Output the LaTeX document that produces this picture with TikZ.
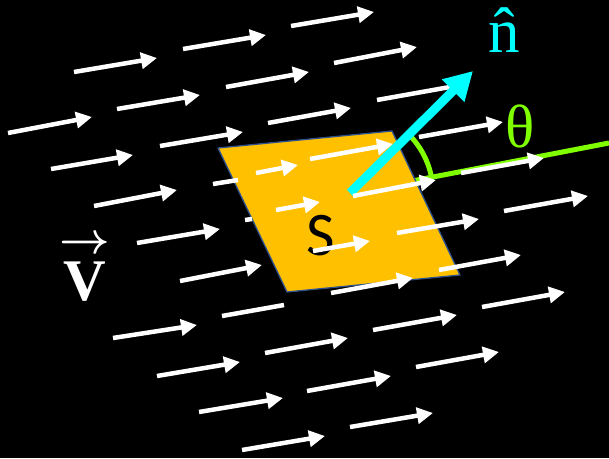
\RequirePackage{fix-cm}
\documentclass[tikz,border=0pt]{standalone}
\usepackage{fontspec}
\setmainfont{Liberation Serif}
\newfontfamily\carlito{Carlito}
\usetikzlibrary{arrows.meta}
\definecolor{surf}{RGB}{255,192,0}
\definecolor{surfedge}{RGB}{47,82,143}
\definecolor{ncyan}{RGB}{0,255,255}
\definecolor{agreen}{RGB}{128,255,0}
\tikzset{
  flow/.style={white, line width=4.5pt, -{Triangle[length=16pt,width=16pt]}},
  flowline/.style={white, line width=4.5pt},
  normalvec/.style={ncyan, line width=9pt, -{Triangle[length=28pt,width=30pt]}},
  anglemark/.style={agreen, line width=5pt},
  lbl/.style={inner sep=0pt, anchor=base},
}
\begin{document}
\begin{tikzpicture}[x=1pt,y=-1pt]
\useasboundingbox (0,0) rectangle (609,458);
\fill[black] (0,0) rectangle (609,458);
% key points
\coordinate (o) at (350,193);
\coordinate (ntip) at (473,71);
\coordinate (gend) at (609,143);
% reference line of the angle (behind the surface)
\draw[anglemark] (o) -- (gend);
% surface
\filldraw[fill=surf, draw=surfedge, line width=1.3pt, line join=round]
  (218,148) -- (392,131) -- (460,275) -- (287,292) -- cycle;
\node[lbl, font=\carlito\fontsize{62}{62}\selectfont] (S) at (321,255) {S};
% velocity field
\foreach \a/\b/\c/\d in {
  74/72/157/58, 183/49/266/35, 291/26/374/12,
  8/133/92/117, 117/109/200/95, 226/87/309/72, 334/63/417/47,
  51/169/133/155, 160/146/243/132, 268/123/351/108,
  94/206/177/190, 310/159/393/144, 419/137/503/122,
  137/243/220/229, 461/173/544/158,
  180/281/262/265, 313/251/370/241, 397/233/479/219, 504/211/588/196,
  331/293/413/278, 439/270/521/255, 482/307/565/292,
  373/330/457/315, 416/367/499/352, 265/353/348/338,
  113/338/197/325, 157/376/240/362, 307/391/391/376,
  199/412/283/398, 350/427/433/413, 242/450/325/436,
  256/173/298/165, 276/210/320/202}
  \draw[flow] (\a,\b) -- (\c,\d);
\foreach \a/\b/\c/\d in {377/100/450/87, 213/184/238/180, 245/220/252/219, 222/316/284/305}
  \draw[flowline] (\a,\b) -- (\c,\d);
% angle arc
\draw[anglemark] (o) ++(-11:83) arc[start angle=-11, end angle=-46, radius=83];
% normal vector
\draw[normalvec] (o) -- (ntip);
\draw[flow] (353,196) -- (436,180);
% labels
\node[lbl, text=ncyan, font=\fontsize{63}{63}\selectfont] (nhat) at (504,52) {\^{n}};
\node[lbl, text=agreen, font=\fontsize{61}{61}\selectfont] (theta) at (520,147) {θ};
\node[lbl, text=white, font=\fontsize{59}{59}\selectfont] (vvec) at (85,300) {\bfseries V};
\node[inner sep=0pt, text=white, font=\fontsize{44}{44}\selectfont\boldmath] (varrow) at (85,245) {$\rightarrow$};
\end{tikzpicture}
\end{document}
